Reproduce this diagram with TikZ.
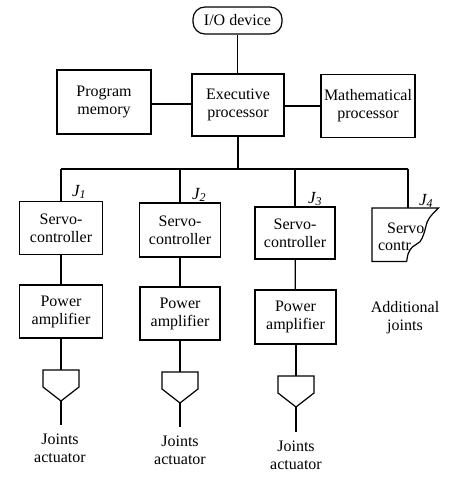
\documentclass[tikz,border=0pt]{standalone}
\usepackage{fontspec}
\setmainfont{Liberation Serif}
\begin{document}
\begin{tikzpicture}[x=1pt,y=-1pt,line width=1.2pt,
  every node/.style={font=\fontsize{16}{18}\selectfont},
  blk/.style={draw,rectangle,align=center,inner sep=1pt},
  txt/.style={align=center,inner sep=0pt},
  lab/.style={inner sep=0pt},
  jlab/.style={inner sep=0pt,font=\fontsize{17}{18}\selectfont\itshape},
  actuator/.pic={
    \coordinate (-top) at (0,0);
    \coordinate (-tip) at (0,31);
    \draw (-18,0) -- (18,0) -- (18,17) -- (0,31) -- (-18,17) -- cycle;
  }]
\useasboundingbox (0,0) rectangle (462,500);
% top level
\node[blk,rounded corners=12pt,minimum width=89pt,minimum height=27pt] (io) at (237.5,20.5) {I/O device};
\node[blk,minimum width=92pt,minimum height=62pt] (ex) at (238,105) {Executive\\processor};
\node[blk,minimum width=94pt,minimum height=64pt] (pm) at (104,102) {Program\\memory};
\node[blk,minimum width=94pt,minimum height=63pt] (mp) at (368,106) {Mathematical\\processor};
\draw (io) -- (io |- ex.north);
\draw (pm.east |- 0,104) -- (ex.west |- 0,104);
\draw (ex.east |- 0,106) -- (mp.west |- 0,106);
% bus
\coordinate (b1) at (61,169);
\coordinate (b2) at (180,169);
\coordinate (b3) at (295,169);
\coordinate (b4) at (408,169);
\coordinate (bx) at (238,169);
\draw (ex.south) -- (bx);
\draw (b1) -- (b4);
% servo controllers
\node[blk,minimum width=83pt,minimum height=53pt] (s1) at (61,228) {Servo-\\controller};
\node[blk,minimum width=81pt,minimum height=54pt] (s2) at (180,230) {Servo-\\controller};
\node[blk,minimum width=80pt,minimum height=52pt] (s3) at (295,233) {Servo-\\controller};
\coordinate (s4) at (408,208);
\draw (b1) -- (s1.north);
\draw (b2) -- (s2.north);
\draw (b3) -- (s3.north);
\draw (b4) -- (s4);
% J labels
\node[jlab] (j1) at (79,192) {J\textsubscript{1}};
\node[jlab] (j2) at (199,195) {J\textsubscript{2}};
\node[jlab] (j3) at (315,199) {J\textsubscript{3}};
\node[jlab] (j4) at (426,201) {J\textsubscript{4}};
% torn servo 4
\node[lab,anchor=west] (s4a) at (386.5,228) {Servo};
\node[lab,anchor=west] (s4b) at (377.5,246) {contr};
\draw (406.7,261.5) -- (372,261.5) -- (372,208) -- (438.5,208)
  -- plot[smooth,tension=0.6] coordinates {(438.5,208) (431.7,215) (427.3,221.7) (424,233.3) (420,241.7) (412.7,246.7) (408.3,253.3) (406.7,261.5)};
% power amplifiers
\node[blk,minimum width=83pt,minimum height=53pt] (p1) at (61,311.5) {Power\\amplifier};
\node[blk,minimum width=80pt,minimum height=53pt] (p2) at (180,313.5) {Power\\amplifier};
\node[blk,minimum width=81pt,minimum height=54pt] (p3) at (295.5,317) {Power\\amplifier};
\draw (s1) -- (p1);
\draw (s2) -- (p2);
\draw (s3) -- (p3);
\node[txt] (addj) at (405,318) {Additional\\joints};
% actuators
\pic (a1) at (61,370) {actuator};
\pic (a2) at (180,372) {actuator};
\pic (a3) at (296,376) {actuator};
\draw (p1.south) -- (a1-top);
\draw (p2.south) -- (a2-top);
\draw (p3.south -| a3-top) -- (a3-top);
\coordinate (e1) at (61,425);
\coordinate (e2) at (180,427);
\coordinate (e3) at (296,432);
\draw (a1-tip) -- (e1);
\draw (a2-tip) -- (e2);
\draw (a3-tip) -- (e3);
\node[txt] (t1) at (60,448) {Joints\\actuator};
\node[txt] (t2) at (180,450) {Joints\\actuator};
\node[txt] (t3) at (296,455) {Joints\\actuator};
\end{tikzpicture}
\end{document}
